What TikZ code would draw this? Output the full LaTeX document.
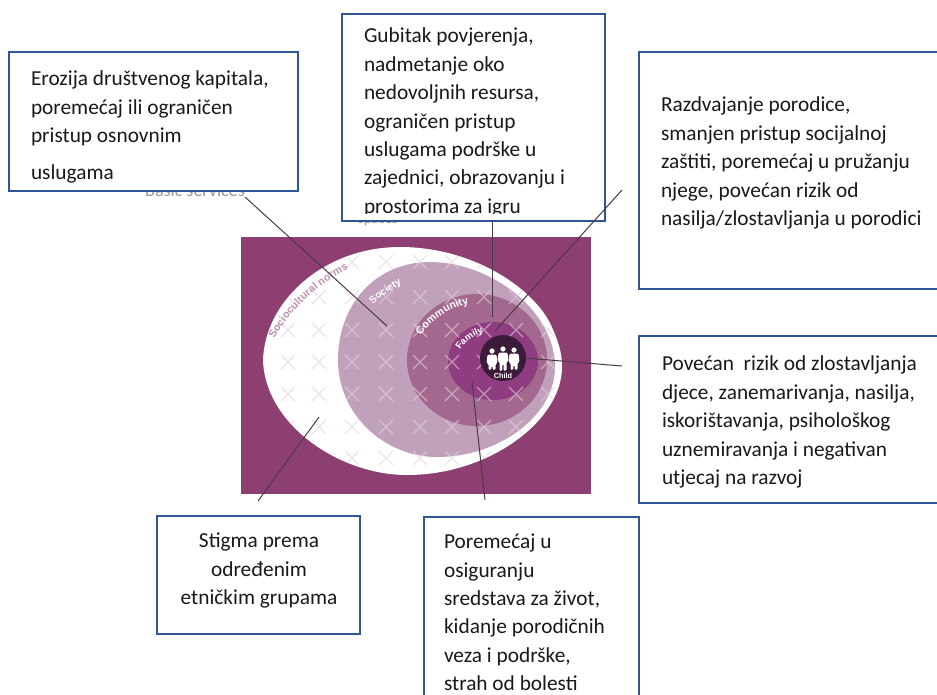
\documentclass[tikz,border=0pt]{standalone}
\usepackage{fontspec}
\setmainfont{Carlito}
\setsansfont{Liberation Sans}
\usetikzlibrary{decorations.text}
\definecolor{plum}{HTML}{8E3F72}
\definecolor{societyc}{HTML}{C0A0BB}
\definecolor{communityc}{HTML}{A4688F}
\definecolor{familyc}{HTML}{8F3D80}
\definecolor{childc}{HTML}{3C1A3A}
\definecolor{boxblue}{HTML}{2F5597}
\definecolor{crossc}{HTML}{E2D3DD}
\definecolor{normsc}{HTML}{BE8FB0}
\definecolor{linec}{HTML}{4A3A48}
\tikzset{
  x=0.75pt,y=-0.75pt,
  infobox/.style={draw=boxblue,line width=1.5pt,fill=white,inner sep=0pt,outer sep=0pt,rectangle,anchor=north west},
  bodytext/.style={anchor=north west,inner sep=0pt,outer sep=0pt,align=left,font=\fontsize{16}{21.3}\selectfont,text=black!90},
  connector/.style={draw=linec,line width=0.75pt},
  crossmark/.style={draw=crossc,line width=1pt},
  ringlabel/.style={decorate},
  faint/.style={text=black!40,font=\fontsize{13.5}{15}\selectfont,inner sep=0pt},
  person/.style={fill=white,draw=none},
}
\newcommand{\eggouter}{(263,360) .. controls (265,300) and (325,247) .. (400,247) .. controls (470,247) and (530,285) .. (550,323) .. controls (558,340) and (562,352) .. (562,367) .. controls (562,420) and (490,475) .. (407,475) .. controls (340,475) and (265,425) .. (263,360) -- cycle}
\newcommand{\eggsociety}{(338,360) .. controls (338,305) and (375,262) .. (430,262) .. controls (490,262) and (555,310) .. (555,367) .. controls (555,415) and (500,457) .. (437,457) .. controls (385,457) and (338,415) .. (338,360) -- cycle}
\newcommand{\figperson}[3]{%
  \fill[person] (#1,#2) circle (2.6);
  \fill[person,rounded corners=1pt] (#1-4.5,#2+3.5) -- (#1+4.5,#2+3.5) -- (#1+5.5,#2+12) -- (#1+3.5,#2+12.5) -- (#1+3.5,#3) -- (#1+0.7,#3) -- (#1+0.7,#2+15) -- (#1-0.7,#2+15) -- (#1-0.7,#3) -- (#1-3.5,#3) -- (#1-3.5,#2+12.5) -- (#1-5.5,#2+12) -- cycle;
}
\begin{document}
\begin{tikzpicture}
\useasboundingbox (0,0) rectangle (937,694);
\clip (0,0) rectangle (937,694);
\fill[white] (0,0) rectangle (937,694);
% faint remnants behind the boxes
\node[faint] (oldbasic) at (195,190) {Basic services};
\node[faint,font=\fontsize{11}{13}\selectfont] (oldspaces) at (378,221) {spaces};
% picture
\fill[plum] (241,237) rectangle (591,494);
\fill[white] \eggouter;
\fill[societyc] \eggsociety;
\fill[communityc] (477,360) ellipse (70 and 66);
\fill[familyc] (493,361) ellipse (45 and 39);
\begin{scope}
  \clip \eggouter;
  \foreach \cx in {288,319,352,386,420,452,484,516,548}
    \foreach \cy in {262,297,330,362,394,427,458}
      \draw[crossmark,opacity=0.6] (\cx-7,\cy-7) -- (\cx+7,\cy+7) (\cx-7,\cy+7) -- (\cx+7,\cy-7);
\end{scope}
\fill[childc] (503,358) circle (23);
\figperson{492}{351}{370}
\figperson{503}{349}{371}
\figperson{514}{350}{370}
\node[text=white,font=\sffamily\bfseries\fontsize{5.5}{6}\selectfont,inner sep=0pt] (childlbl) at (503,376) {Child};
% curved labels
\path[ringlabel,decoration={text along path,text align=center,text={|\sffamily\bfseries\fontsize{8}{9}\selectfont\color{normsc}|Sociocultural norms}}] (272,343) .. controls (288,312) and (315,285) .. (353,267);
\path[ringlabel,decoration={text along path,text align=center,text={|\sffamily\bfseries\fontsize{7.5}{8}\selectfont\color{white}|Society}}] (369,309) .. controls (378,298) and (393,288) .. (407,281);
\path[ringlabel,decoration={text along path,text align=center,text={|\sffamily\bfseries\fontsize{8}{9}\selectfont\color{white}|Community}}] (419,339) .. controls (428,321) and (450,307) .. (473,303);
\path[ringlabel,decoration={text along path,text align=center,text={|\sffamily\bfseries\fontsize{7}{8}\selectfont\color{white}|Family}}] (458,355) .. controls (462,343) and (473,335) .. (489,331);
% anchors on the picture
\coordinate (tsociety) at (387,326);
\coordinate (tcommunity) at (492,317);
\coordinate (tfamily) at (495,331);
\coordinate (tchild) at (525,358);
\coordinate (tnorms) at (319,417);
\coordinate (tlower) at (472,382);
\coordinate (s1) at (245,197);
\coordinate (s3) at (622,190);
\coordinate (s4) at (622,366);
\coordinate (s5) at (258,501);
\coordinate (s6) at (485,500);
% boxes
\node[infobox,minimum width=289*0.75pt,minimum height=139*0.75pt] (b1) at (9,52) {};
\node[infobox,minimum width=263*0.75pt,minimum height=207*0.75pt] (b2) at (342,14) {};
\node[infobox,minimum width=310*0.75pt,minimum height=237*0.75pt] (b3) at (639,52) {};
\node[infobox,minimum width=310*0.75pt,minimum height=167*0.75pt] (b4) at (639,336) {};
\node[infobox,minimum width=203*0.75pt,minimum height=118*0.75pt] (b5) at (157,516) {};
\node[infobox,minimum width=215*0.75pt,minimum height=190*0.75pt] (b6) at (424,517) {};
% connectors
\draw[connector] (s1) -- (tsociety);
\draw[connector] (b2.south -| tcommunity) -- (tcommunity);
\draw[connector] (s3) -- (tfamily);
\draw[connector] (s4) -- (tchild);
\draw[connector] (s5) -- (tnorms);
\draw[connector] (s6) -- (tlower);
% texts
\node[bodytext] (t1) at (31,71) {Erozija društvenog kapitala,\\poremećaj ili ograničen\\pristup osnovnim\\[6pt]uslugama};
\begin{scope}
  \clip (342,14) rectangle (605,213);
  \node[bodytext] (t2) at (364,28) {Gubitak povjerenja,\\nadmetanje oko\\nedovoljnih resursa,\\ograničen pristup\\uslugama podrške u\\zajednici, obrazovanju i\\prostorima za igru};
\end{scope}
\node[bodytext] (t3) at (661,97) {Razdvajanje porodice,\\smanjen pristup socijalnoj\\zaštiti, poremećaj u pružanju\\njege, povećan rizik od\\nasilja/zlostavljanja u porodici};
\node[bodytext] (t4) at (662,356) {Povećan\ \ rizik od zlostavljanja\\djece, zanemarivanja, nasilja,\\iskorištavanja, psihološkog\\uznemiravanja i negativan\\utjecaj na razvoj};
\node[bodytext,align=center,anchor=north] (t5) at (259,533) {Stigma prema\\određenim\\etničkim grupama};
\node[bodytext] (t6) at (444,534) {Poremećaj u\\osiguranju\\sredstava za život,\\kidanje porodičnih\\veza i podrške,\\strah od bolesti};
\end{tikzpicture}
\end{document}
